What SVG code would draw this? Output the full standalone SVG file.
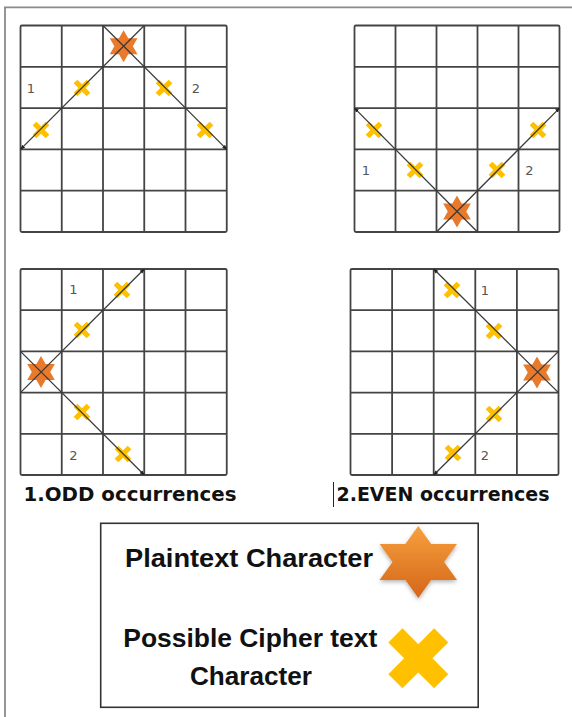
<svg xmlns="http://www.w3.org/2000/svg" width="572" height="717" viewBox="0 0 572 717">
  <style>
    .grid { fill: none; stroke: #444; stroke-width: 1.8; }
    .conn { fill: none; stroke: #3a3a3a; stroke-width: 1.3; }
    .num { font-family: "DejaVu Sans", "Liberation Sans", sans-serif; font-size: 13px; fill: #555; text-anchor: middle; dominant-baseline: central; }
    .cap { font-family: "DejaVu Sans", "Liberation Sans", sans-serif; font-weight: bold; font-size: 19.5px; fill: #111; }
    .leg { font-family: "Liberation Sans", Arial, sans-serif; font-weight: bold; font-size: 26px; fill: #111; }
    .xs { fill: #FFC000; }
    .st { fill: #E97A2B; }
  </style>
  <defs>
    <polygon id="smallX" points="-2.6,-9.2 2.6,-9.2 2.6,-2.6 9.2,-2.6 9.2,2.6 2.6,2.6 2.6,9.2 -2.6,9.2 -2.6,2.6 -9.2,2.6 -9.2,-2.6 -2.6,-2.6" transform="rotate(45)"/>
    <polygon id="smallStar" points="0,-16 4.62,-8 13.86,-8 9.24,0 13.86,8 4.62,8 0,16 -4.62,8 -13.86,8 -9.24,0 -13.86,-8 -4.62,-8"/>
    <marker id="arr" viewBox="0 0 10 10" refX="9" refY="5" markerWidth="5" markerHeight="5" orient="auto-start-reverse" markerUnits="userSpaceOnUse">
      <path d="M0,1 L10,5 L0,9 Z" fill="#222"/>
    </marker>
    <linearGradient id="starGrad" x1="0" y1="0" x2="0" y2="1">
      <stop offset="0" stop-color="#F7A03C"/>
      <stop offset="1" stop-color="#D4661A"/>
    </linearGradient>
    <filter id="shadow" x="-30%" y="-30%" width="160%" height="160%">
      <feDropShadow dx="0" dy="2" stdDeviation="2" flood-color="#000" flood-opacity="0.3"/>
    </filter>
  </defs>

  <!-- page frame -->
  <g id="frame">
    <path d="M4,7.3 H572 M5,7.3 V717" fill="none" stroke="#8a8a8a" stroke-width="1.8"/>
  </g>

  <!-- Grid 1: top-left -->
  <g id="grid-odd-top">
    <rect class="grid" x="20.5" y="25.5" width="206.25" height="206.5" rx="1.5"/>
    <path class="grid" d="M61.75,25.5V232 M103,25.5V232 M144.25,25.5V232 M185.5,25.5V232 M20.5,66.8H226.75 M20.5,108.1H226.75 M20.5,149.4H226.75 M20.5,190.7H226.75"/>
    <use href="#smallStar" class="st" x="123.6" y="46.2"/>
    <use href="#smallX" class="xs" x="82" y="88"/>
    <use href="#smallX" class="xs" x="41" y="130"/>
    <use href="#smallX" class="xs" x="164" y="88"/>
    <use href="#smallX" class="xs" x="205" y="130"/>
    <text class="num" x="31" y="88.5">1</text>
    <text class="num" x="196" y="88.5">2</text>
  </g>

  <!-- Grid 2: top-right -->
  <g id="grid-even-top">
    <rect class="grid" x="354.5" y="25.5" width="205" height="206.5" rx="1.5"/>
    <path class="grid" d="M395.5,25.5V232 M436.5,25.5V232 M477.5,25.5V232 M518.5,25.5V232 M354.5,66.8H559.5 M354.5,108.1H559.5 M354.5,149.4H559.5 M354.5,190.7H559.5"/>
    <use href="#smallStar" class="st" x="457" y="211.5"/>
    <use href="#smallX" class="xs" x="374" y="130"/>
    <use href="#smallX" class="xs" x="415" y="170"/>
    <use href="#smallX" class="xs" x="497" y="170"/>
    <use href="#smallX" class="xs" x="538" y="130"/>
    <text class="num" x="366" y="170">1</text>
    <text class="num" x="529.5" y="170">2</text>
  </g>

  <!-- Grid 3: bottom-left -->
  <g id="grid-odd-bottom">
    <rect class="grid" x="20.5" y="269" width="206.25" height="206" rx="1.5"/>
    <path class="grid" d="M61.75,269V475 M103,269V475 M144.25,269V475 M185.5,269V475 M20.5,310.2H226.75 M20.5,351.4H226.75 M20.5,392.6H226.75 M20.5,433.8H226.75"/>
    <use href="#smallStar" class="st" x="41" y="372"/>
    <use href="#smallX" class="xs" x="122" y="290"/>
    <use href="#smallX" class="xs" x="82" y="330"/>
    <use href="#smallX" class="xs" x="82" y="412"/>
    <use href="#smallX" class="xs" x="123" y="454"/>
    <text class="num" x="73.5" y="289.5">1</text>
    <text class="num" x="73.5" y="455">2</text>
  </g>

  <!-- Grid 4: bottom-right -->
  <g id="grid-even-bottom">
    <rect class="grid" x="350.5" y="269" width="208" height="206" rx="1.5"/>
    <path class="grid" d="M392.1,269V475 M433.7,269V475 M475.3,269V475 M516.9,269V475 M350.5,310.2H558.5 M350.5,351.4H558.5 M350.5,392.6H558.5 M350.5,433.8H558.5"/>
    <use href="#smallStar" class="st" x="537" y="372.5"/>
    <use href="#smallX" class="xs" x="452" y="290"/>
    <use href="#smallX" class="xs" x="494" y="331"/>
    <use href="#smallX" class="xs" x="494" y="414"/>
    <use href="#smallX" class="xs" x="453" y="453"/>
    <text class="num" x="485" y="290">1</text>
    <text class="num" x="485" y="455">2</text>
  </g>

  <!-- connectors (diagonals) -->
  <g id="connectors">
    <line class="conn" x1="20.5" y1="149.4" x2="144.25" y2="25.5" marker-start="url(#arr)"/>
    <line class="conn" x1="103" y1="25.5" x2="226.75" y2="149.4" marker-end="url(#arr)"/>
    <line class="conn" x1="354.5" y1="108.1" x2="477.5" y2="232" marker-start="url(#arr)"/>
    <line class="conn" x1="436.5" y1="232" x2="559.5" y2="108.1" marker-end="url(#arr)"/>
    <line class="conn" x1="20.5" y1="392.6" x2="144.25" y2="269" marker-end="url(#arr)"/>
    <line class="conn" x1="20.5" y1="351.4" x2="144.25" y2="475" marker-end="url(#arr)"/>
    <line class="conn" x1="433.7" y1="269" x2="558.5" y2="392.6" marker-start="url(#arr)"/>
    <line class="conn" x1="558.5" y1="351.4" x2="433.7" y2="475" marker-end="url(#arr)"/>
  </g>

  <!-- captions -->
  <g id="captions">
    <text class="cap" x="23.5" y="501" textLength="213" lengthAdjust="spacingAndGlyphs">1.ODD occurrences</text>
    <line x1="333.5" y1="482" x2="333.5" y2="507" stroke="#222" stroke-width="1"/>
    <text class="cap" x="336.5" y="501" textLength="213" lengthAdjust="spacingAndGlyphs">2.EVEN occurrences</text>
  </g>

  <!-- legend -->
  <g id="legend">
    <rect x="100.7" y="523.3" width="377.5" height="184" fill="#fff" stroke="#333" stroke-width="1.6"/>
    <text class="leg" x="125" y="567" textLength="248" lengthAdjust="spacingAndGlyphs">Plaintext Character</text>
    <polygon filter="url(#shadow)" fill="url(#starGrad)" transform="translate(418.3,562)" points="0,-36 12.9,-18 38.7,-18 25.8,0 38.7,18 12.9,18 0,36 -12.9,18 -38.7,18 -25.8,0 -38.7,-18 -12.9,-18"/>
    <text class="leg" x="123.3" y="646.5" textLength="254" lengthAdjust="spacingAndGlyphs">Possible Cipher text</text>
    <text class="leg" x="190" y="685" textLength="122" lengthAdjust="spacingAndGlyphs">Character</text>
    <polygon class="xs" transform="translate(418.3,658.3) rotate(45)" points="-10,-32.4 10,-32.4 10,-10 32.4,-10 32.4,10 10,10 10,32.4 -10,32.4 -10,10 -32.4,10 -32.4,-10 -10,-10"/>
  </g>
</svg>
